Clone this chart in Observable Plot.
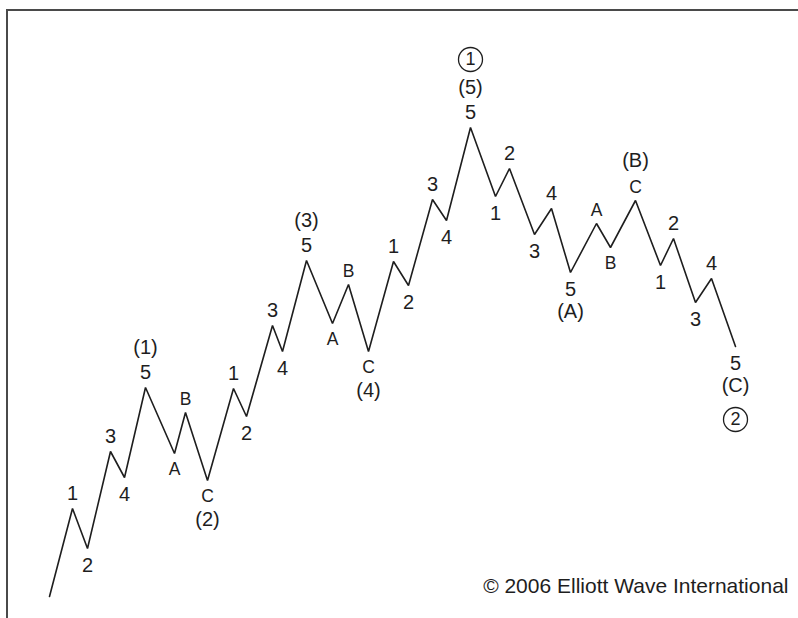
<!DOCTYPE html>
<html>
<head>
<meta charset="utf-8">
<script src="https://cdn.jsdelivr.net/npm/d3@7"></script>
<script src="https://cdn.jsdelivr.net/npm/@observablehq/plot@0.6"></script>
<style>
  html, body { margin: 0; padding: 0; background: #fff; }
  #wrap { position: relative; width: 798px; height: 618px; overflow: hidden; }
  #border { position: absolute; left: 6px; top: 9px; right: -10px; bottom: -10px;
            border-left: 2px solid #4a4a4a; border-top: 2px solid #4a4a4a; pointer-events: none; }
  #chart svg { display: block; }
</style>
</head>
<body>
<div id="wrap"><div id="chart"></div><div id="border"></div></div>
<script>
// Time position of each wave turning point (arbitrary units)
const time = [4.9, 7.2, 8.7, 11.0, 12.4, 14.5, 17.4, 18.5, 20.7, 23.3, 24.6, 27.2, 28.2, 30.6, 33.2, 34.8, 36.8, 39.3, 40.8, 43.2, 44.6, 47.0, 49.5, 50.9, 53.4, 55.1, 57.0, 59.6, 61.0, 63.5, 66.0, 67.3, 69.5, 71.1, 73.5];
// Price level of each turning point (arbitrary units)
const price = [2.2, 11.0, 7.0, 16.7, 14.1, 23.1, 16.5, 20.6, 13.8, 23.0, 20.2, 29.3, 26.7, 35.8, 29.5, 33.4, 26.7, 35.7, 33.3, 41.9, 39.8, 49.1, 42.2, 45.0, 38.4, 41.0, 34.6, 39.5, 37.1, 41.8, 35.3, 38.0, 31.6, 34.0, 27.2];
// Minor-degree wave labels
const minorLabels = ["", "1", "2", "3", "4", "5", "A", "B", "C", "1", "2", "3", "4", "5", "A", "B", "C", "1", "2", "3", "4", "5", "1", "2", "3", "4", "5", "A", "B", "C", "1", "2", "3", "4", "5"];
// Intermediate-degree wave labels
const intermediateLabels = ["", "", "", "", "", "(1)", "", "", "(2)", "", "", "", "", "(3)", "", "", "(4)", "", "", "", "", "(5)", "", "", "", "", "(A)", "", "", "(B)", "", "", "", "", "(C)"];
// Primary-degree (circled) wave labels
const primaryLabels = ["", "", "", "", "", "", "", "", "", "", "", "", "", "", "", "", "", "", "", "", "", "1", "", "", "", "", "", "", "", "", "", "", "", "", "2"];
const copyright = "© 2006 Elliott Wave International";

const pts = time.map((t, i) => ({
  t, p: price[i],
  minor: minorLabels[i],
  inter: intermediateLabels[i],
  prim: primaryLabels[i],
  peak: i > 0 && price[i] > price[i - 1]
}));
const isLetter = s => /^[A-Z]$/.test(s);

const ink = "#1e1e1e";
const font = "Liberation Sans, Arial, Helvetica, sans-serif";

const peaks = pts.filter(d => d.peak);
const troughs = pts.filter(d => !d.peak);

const chart = Plot.plot({
  width: 798,
  height: 618,
  margin: 0,
  style: { fontFamily: font, background: "#fff" },
  x: { domain: [0, 79.8], axis: null },
  y: { domain: [0, 61.8], axis: null },
  marks: [
    Plot.line(pts, { x: "t", y: "p", stroke: ink, strokeWidth: 1.6, strokeLinejoin: "miter" }),
    // minor labels, digits
    Plot.text(peaks.filter(d => d.minor && !isLetter(d.minor)), { x: "t", y: "p", text: "minor", dy: -15, fontSize: 20, fill: ink }),
    Plot.text(troughs.filter(d => d.minor && !isLetter(d.minor)), { x: "t", y: "p", text: "minor", dy: 17, fontSize: 20, fill: ink }),
    // minor labels, letters
    Plot.text(peaks.filter(d => isLetter(d.minor)), { x: "t", y: "p", text: "minor", dy: -13, fontSize: 17.5, fill: ink }),
    Plot.text(troughs.filter(d => isLetter(d.minor)), { x: "t", y: "p", text: "minor", dy: 16, fontSize: 17.5, fill: ink }),
    // intermediate
    Plot.text(peaks.filter(d => d.inter), { x: "t", y: "p", text: "inter", fontSize: 20, fill: ink, dy: -40 }),
    Plot.text(troughs.filter(d => d.inter), { x: "t", y: "p", text: "inter", fontSize: 20, fill: ink, dy: 39 }),
    // primary (circled)
    Plot.dot(peaks.filter(d => d.prim), { x: "t", y: "p", r: 12, stroke: ink, strokeWidth: 1.3, fill: "none", dy: -68 }),
    Plot.text(peaks.filter(d => d.prim), { x: "t", y: "p", text: "prim", fontSize: 18, fill: ink, dy: -68 }),
    Plot.dot(troughs.filter(d => d.prim), { x: "t", y: "p", r: 12, stroke: ink, strokeWidth: 1.3, fill: "none", dy: 73 }),
    Plot.text(troughs.filter(d => d.prim), { x: "t", y: "p", text: "prim", fontSize: 18, fill: ink, dy: 73 }),
    // copyright
    Plot.text([copyright], { frameAnchor: "bottom-right", text: d => d, textAnchor: "end", dx: -10, dy: -26, fontSize: 21, fill: ink })
  ]
});
document.getElementById("chart").appendChild(chart);
</script>
</body>
</html>
